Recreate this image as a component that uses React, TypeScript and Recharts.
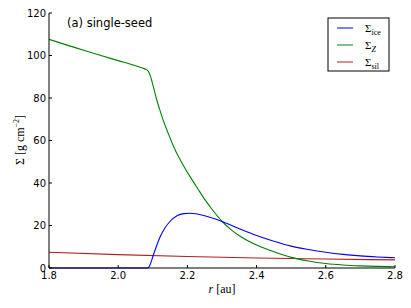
import { CartesianGrid, Customized, Line, LineChart, XAxis, YAxis } from "recharts";

const X_TICKS = [1.8, 2.0, 2.2, 2.4, 2.6, 2.8];
const Y_TICKS = [0, 20, 40, 60, 80, 100, 120];

const rIce = [1.8, 2.0, 2.085, 2.09, 2.095, 2.1, 2.11, 2.12, 2.135, 2.15, 2.17, 2.19, 2.207, 2.225, 2.25, 2.3, 2.35, 2.4, 2.45, 2.5, 2.55, 2.6, 2.65, 2.7, 2.75, 2.8];
const sigmaIce = [0, 0, 0, 0.8, 2.8, 5.3, 10, 14.2, 18.8, 22.0, 24.6, 25.6, 25.8, 25.5, 24.6, 21.9, 18.5, 15.3, 12.6, 10.3, 8.7, 7.4, 6.4, 5.7, 5.2, 4.8];

const rZ = [1.8, 1.85, 1.9, 1.95, 2.0, 2.05, 2.07, 2.08, 2.087, 2.093, 2.1, 2.11, 2.12, 2.13, 2.145, 2.16, 2.175, 2.19, 2.21, 2.23, 2.25, 2.27, 2.3, 2.325, 2.35, 2.4, 2.45, 2.5, 2.55, 2.6, 2.65, 2.7, 2.75, 2.8];
const sigmaZ = [107.6, 105.0, 102.5, 100.0, 97.6, 95.2, 94.1, 93.5, 92.6, 90.4, 86.3, 80.0, 74.5, 69.6, 63.2, 57.2, 52.2, 47.8, 42.4, 37.3, 32.3, 27.9, 22.0, 18.2, 15.2, 10.8, 7.6, 5.0, 3.3, 2.1, 1.4, 1.0, 0.75, 0.6];

const rSil = [1.8, 2.0, 2.2, 2.4, 2.6, 2.8];
const sigmaSil = [7.4, 6.3, 5.4, 4.7, 4.2, 3.8];

const BLUE = "#0000ff";
const GREEN = "#008000";
const RED = "#b02020";

const iceData = rIce.map((r, i) => ({ r, v: sigmaIce[i] }));
const zData = rZ.map((r, i) => ({ r, v: sigmaZ[i] }));
const silData = rSil.map((r, i) => ({ r, v: sigmaSil[i] }));

const SANS = "DejaVu Sans, sans-serif";
const SERIF = "Liberation Serif, DejaVu Serif, serif";
const tickStyle = { fontSize: 10, fill: "#000", fontFamily: SANS };
const blank = () => "";

function Annotations() {
  return (
    <g>
      <text x={67} y={27} fontFamily={SANS} fontSize={11.5} fill="#000">
        (a) single-seed
      </text>
      <text x={222} y={293} textAnchor="middle" fontFamily={SERIF} fontSize={12} fill="#000">
        <tspan fontStyle="italic">r</tspan> [au]
      </text>
      <text
        transform="translate(24,140) rotate(-90)"
        textAnchor="middle"
        fontFamily={SERIF}
        fontSize={12}
        fill="#000"
      >
        Σ [g cm<tspan dy={-5} fontSize={8}>−2</tspan>
        <tspan dy={5}>]</tspan>
      </text>
      <rect x={328} y={18} width={61} height={53} fill="#fff" stroke="#000" strokeWidth={1} />
      {[
        { color: BLUE, sub: "ice", italic: false },
        { color: GREEN, sub: "Z", italic: true },
        { color: RED, sub: "sil", italic: false },
      ].map((e, i) => {
        const y = 28 + i * 17;
        return (
          <g key={e.sub}>
            <line x1={337} x2={353} y1={y} y2={y} stroke={e.color} strokeWidth={1} />
            <text x={365} y={y + 4} fontFamily={SERIF} fontSize={11} fill="#000">
              Σ
              <tspan dy={3} fontSize={8} fontStyle={e.italic ? "italic" : "normal"}>
                {e.sub}
              </tspan>
            </text>
          </g>
        );
      })}
    </g>
  );
}

export default function App() {
  return (
    <div style={{ position: "absolute", left: 0, top: 0, width: 411, height: 308, background: "#fff" }}>
      <LineChart width={411} height={308} margin={{ top: 13, right: 16, bottom: 0, left: 0 }}>
        <CartesianGrid stroke="none" />
        <XAxis
          type="number"
          dataKey="r"
          domain={[1.8, 2.8]}
          ticks={X_TICKS}
          tickFormatter={(v) => v.toFixed(1)}
          allowDataOverflow
          height={40}
          stroke="#000"
          tickSize={-3}
          tickMargin={7}
          tick={tickStyle}
        />
        <XAxis
          xAxisId="top"
          orientation="top"
          type="number"
          dataKey="r"
          domain={[1.8, 2.8]}
          ticks={X_TICKS}
          tickFormatter={blank}
          height={0}
          stroke="#000"
          tickSize={-3}
        />
        <YAxis
          type="number"
          domain={[0, 120]}
          ticks={Y_TICKS}
          width={49}
          stroke="#000"
          tickSize={-3}
          tickMargin={6}
          tick={tickStyle}
        />
        <YAxis
          yAxisId="right"
          orientation="right"
          type="number"
          domain={[0, 120]}
          ticks={Y_TICKS}
          tickFormatter={blank}
          width={0}
          stroke="#000"
          tickSize={-3}
        />
        <Line data={silData} dataKey="v" type="monotone" stroke={RED} strokeWidth={1.1} dot={false} isAnimationActive={false} />
        <Line data={zData} dataKey="v" type="monotone" stroke={GREEN} strokeWidth={1.1} dot={false} isAnimationActive={false} />
        <Line data={iceData} dataKey="v" type="monotone" stroke={BLUE} strokeWidth={1.1} dot={false} isAnimationActive={false} />
        <Customized component={<Annotations />} />
      </LineChart>
    </div>
  );
}
